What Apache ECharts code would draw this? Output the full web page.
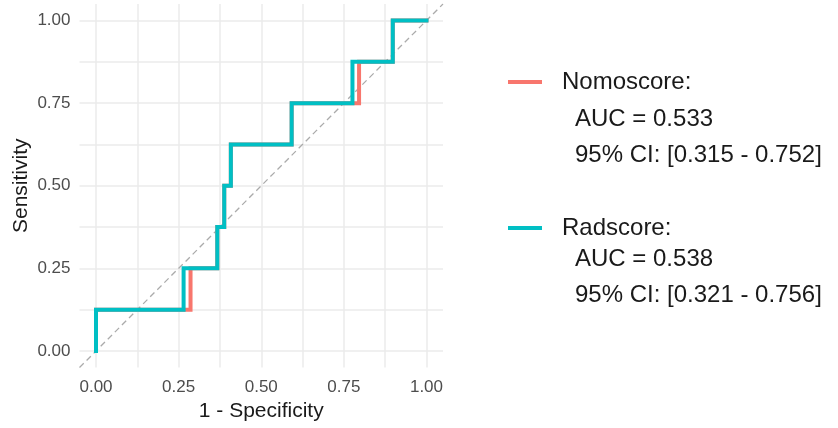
<!DOCTYPE html>
<html>
<head>
<meta charset="utf-8">
<script src="https://cdn.jsdelivr.net/npm/echarts@6/dist/echarts.min.js"></script>
<style>html,body{margin:0;padding:0;background:#fff;}#c{width:838px;height:428px;}</style>
</head>
<body>
<div id="c"></div>
<script>
const seriesNames = ['Nomoscore', 'Radscore'];
const fprNomo = [0, 0, 0.286, 0.286, 0.367, 0.367, 0.388, 0.388, 0.408, 0.408, 0.592, 0.592, 0.796, 0.796, 0.898, 0.898, 1];
const tprNomo = [0, 0.125, 0.125, 0.25, 0.25, 0.375, 0.375, 0.5, 0.5, 0.625, 0.625, 0.75, 0.75, 0.875, 0.875, 1, 1];
const fprRad = [0, 0, 0.265, 0.265, 0.367, 0.367, 0.388, 0.388, 0.408, 0.408, 0.592, 0.592, 0.776, 0.776, 0.898, 0.898, 1];
const tprRad = [0, 0.125, 0.125, 0.25, 0.25, 0.375, 0.375, 0.5, 0.5, 0.625, 0.625, 0.75, 0.75, 0.875, 0.875, 1, 1];
const aucTexts = ['AUC = 0.533', 'AUC = 0.538'];
const ciTexts = ['95% CI: [0.315 - 0.752]', '95% CI: [0.321 - 0.756]'];
const tickLabels = [0, 0.25, 0.5, 0.75, 1];
const gridValues = [0, 0.125, 0.25, 0.375, 0.5, 0.625, 0.75, 0.875, 1];
const diagX = [-0.05, 1.05];
const diagY = [-0.05, 1.05];

const FONT = "'Liberation Sans', Arial, sans-serif";
const colors = ['#F8766D', '#00BFC4'];
const zip = (a, b) => a.map((v, i) => [v, b[i]]);

const axisCommon = {
  type: 'value', min: -0.05, max: 1.05,
  axisLine: { show: false },
  axisTick: { show: false, customValues: gridValues },
  axisLabel: { customValues: tickLabels, formatter: v => v.toFixed(2), color: '#4D4D4D', fontSize: 17, fontFamily: FONT },
  splitLine: { show: true, lineStyle: { color: '#EBEBEB', width: 1.5 } },
  nameLocation: 'middle',
  nameTextStyle: { color: '#1A1A1A', fontSize: 21, fontFamily: FONT }
};

const chart = echarts.init(document.getElementById('c'), null, { renderer: 'canvas' });
chart.setOption({
  backgroundColor: '#ffffff',
  animation: false,
  grid: { left: 79.5, top: 4, width: 363.5, height: 363.5, containLabel: false },
  xAxis: Object.assign({}, axisCommon, { name: '1 - Specificity', nameGap: 31,
    axisLabel: Object.assign({}, axisCommon.axisLabel, { margin: 11 }) }),
  yAxis: Object.assign({}, axisCommon, { name: 'Sensitivity', nameGap: 48,
    axisLabel: Object.assign({}, axisCommon.axisLabel, { margin: 9 }) }),
  legend: {
    orient: 'vertical', left: 503, top: 63,
    data: seriesNames,
    itemWidth: 34, itemHeight: 4, itemGap: 118,
    icon: 'rect',
    formatter: n => n + ':',
    textStyle: { color: '#1A1A1A', fontSize: 24, fontFamily: FONT, lineHeight: 28, padding: [0, 0, 0, 15] },
    selectedMode: false
  },
  graphic: [
    { type: 'text', left: 575, top: 119 - 14, style: { text: aucTexts[0], fontSize: 24, fontFamily: FONT, fill: '#1A1A1A', lineHeight: 28 } },
    { type: 'text', left: 575, top: 155 - 14, style: { text: ciTexts[0], fontSize: 24, fontFamily: FONT, fill: '#1A1A1A', lineHeight: 28 } },
    { type: 'text', left: 575, top: 259 - 14, style: { text: aucTexts[1], fontSize: 24, fontFamily: FONT, fill: '#1A1A1A', lineHeight: 28 } },
    { type: 'text', left: 575, top: 295 - 14, style: { text: ciTexts[1], fontSize: 24, fontFamily: FONT, fill: '#1A1A1A', lineHeight: 28 } }
  ],
  series: [
    { type: 'line', name: 'diag', data: zip(diagX, diagY), showSymbol: false, silent: true,
      lineStyle: { color: '#ABABAB', width: 1.3, type: [6, 4] }, z: 1 },
    { type: 'line', name: seriesNames[0], data: zip(fprNomo, tprNomo), showSymbol: false,
      itemStyle: { color: colors[0] }, lineStyle: { color: colors[0], width: 4, cap: 'square', join: 'miter' }, z: 2 },
    { type: 'line', name: seriesNames[1], data: zip(fprRad, tprRad), showSymbol: false,
      itemStyle: { color: colors[1] }, lineStyle: { color: colors[1], width: 4, cap: 'square', join: 'miter' }, z: 3 }
  ]
});
</script>
</body>
</html>
